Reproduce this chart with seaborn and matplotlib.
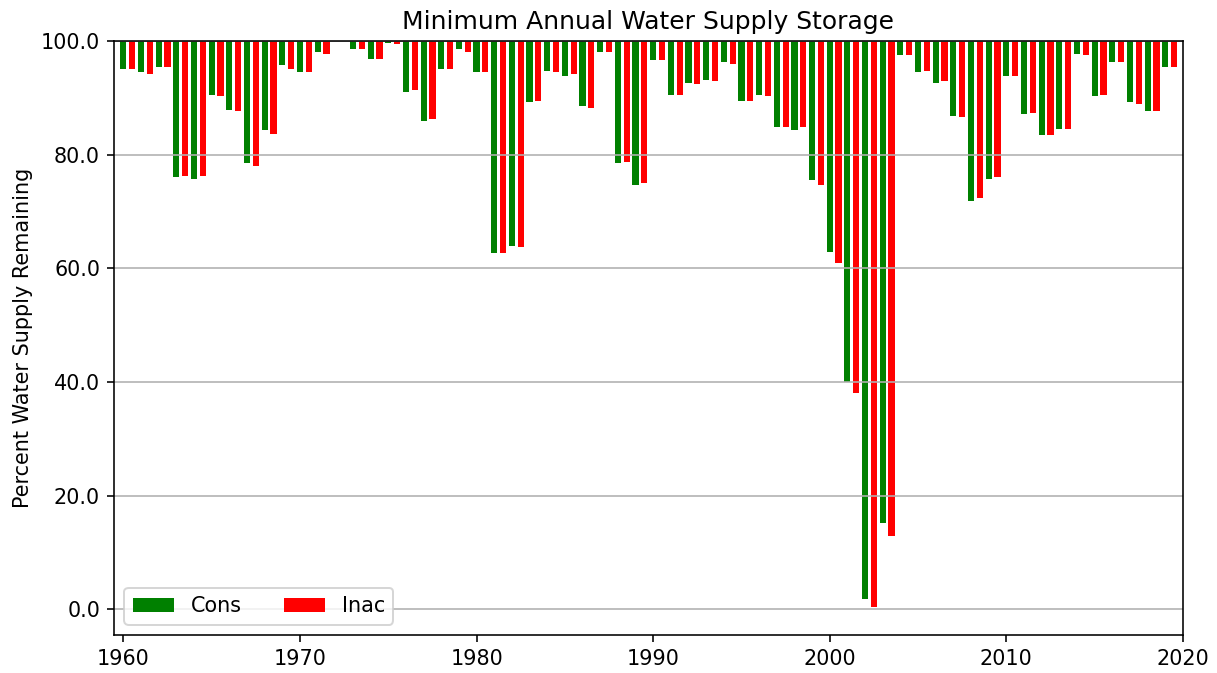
import numpy as np
import pandas as pd
import matplotlib
matplotlib.use("Agg")
import matplotlib.pyplot as plt
import seaborn as sns

# DATA (minimum % of water supply remaining per year)
years = list(range(1960, 2020))

cons = [95.0, 94.5, 95.5, 76.0, 75.7, 90.5, 87.9, 78.6, 84.4, 95.8,
        94.5, 98.1, 100.0, 98.6, 96.8, 99.7, 91.0, 85.9, 95.0, 98.6,
        94.5, 62.7, 64.0, 89.3, 94.7, 93.9, 88.5, 98.1, 78.6, 74.7,
        96.6, 90.5, 92.6, 93.1, 96.3, 89.5, 90.5, 84.8, 84.4, 75.5,
        62.8, 40.0, 1.9, 15.2, 97.5, 94.5, 92.6, 86.9, 71.8, 75.7,
        93.9, 87.2, 83.5, 84.5, 97.8, 90.3, 96.3, 89.3, 87.7, 95.5]

inac = [95.0, 94.2, 95.5, 76.3, 76.3, 90.3, 87.7, 78.1, 83.6, 95.0,
        94.5, 97.8, 100.0, 98.6, 96.8, 99.4, 91.4, 86.2, 95.0, 98.1,
        94.5, 62.7, 63.7, 89.5, 94.5, 94.2, 88.2, 98.1, 78.8, 75.0,
        96.6, 90.5, 92.4, 92.9, 96.0, 89.5, 90.3, 84.8, 84.8, 74.7,
        60.9, 38.0, 0.5, 12.9, 97.5, 94.7, 92.9, 86.6, 72.3, 76.0,
        93.9, 87.4, 83.5, 84.5, 97.5, 90.5, 96.3, 89.0, 87.7, 95.5]

df = pd.DataFrame({"year": years, "cons": cons, "inac": inac})
df["cons_drop"] = df["cons"] - 100
df["inac_drop"] = df["inac"] - 100
df["year_inac"] = df["year"] + 0.5

plt.rcParams["font.size"] = 10.4
plt.rcParams["axes.titlesize"] = 12.5

# PLOT
fig, ax = plt.subplots(figsize=(1217 / 144, 673 / 144), dpi=144)
fig.subplots_adjust(left=0.0937, right=0.972, top=0.939, bottom=0.0565)

sns.barplot(data=df, x="year", y="cons_drop", native_scale=True, orient="x",
            width=0.35, color="green", saturation=1, errorbar=None,
            bottom=100, label="Cons", ax=ax)
sns.barplot(data=df, x="year_inac", y="inac_drop", native_scale=True, orient="x",
            width=0.35, color="red", saturation=1, errorbar=None,
            bottom=100, label="Inac", ax=ax)

ax.set_xlim(1959.47, 2020)
ax.set_ylim(-4.5, 100)
ax.set_xticks([1960, 1970, 1980, 1990, 2000, 2010, 2020])
ax.set_yticks([0, 20, 40, 60, 80, 100])
ax.yaxis.set_major_formatter(matplotlib.ticker.FormatStrFormatter("%.1f"))
ax.grid(axis="y")
ax.grid(axis="x", visible=False)

ax.set_title("Minimum Annual Water Supply Storage")
ax.set_xlabel("")
ax.set_ylabel("Percent Water Supply Remaining")
ax.legend(loc="lower left", ncol=2)

plt.savefig("out.png", dpi=144)
